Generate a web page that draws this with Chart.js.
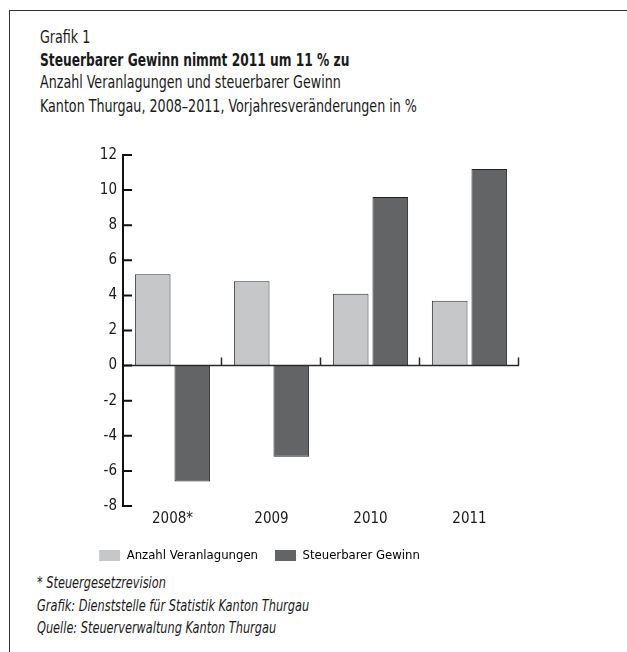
<!DOCTYPE html>
<html>
<head>
<meta charset="utf-8">
<script src="https://cdn.jsdelivr.net/npm/chart.js@4"></script>
<style>
  body { margin: 0; background: #fff; }
  #page { position: relative; width: 627px; height: 652px; overflow: hidden; font-family: "DejaVu Sans Condensed", "Liberation Sans Narrow", sans-serif; color: #1a1a1a; }
  #frame { position: absolute; left: 9px; top: 10px; width: 640px; height: 660px; border-top: 1px solid #333; border-left: 1px solid #333; }
  .t { position: absolute; left: 40px; white-space: nowrap; font-size: 17px; line-height: 20px; transform: scaleX(0.83); transform-origin: 0 0; }
  .f { position: absolute; left: 37px; white-space: nowrap; font-size: 15px; line-height: 18px; font-style: italic; transform: scaleX(0.84); transform-origin: 0 0; }
  #wrap { position: absolute; left: 0; top: 140px; width: 522px; height: 432px; }
</style>
</head>
<body>
<div id="page">
  <div id="frame"></div>
  <div class="t" style="top:27px">Grafik 1</div>
  <div class="t" style="top:50px; font-weight:bold; transform:scaleX(0.8)">Steuerbarer Gewinn nimmt 2011 um 11 % zu</div>
  <div class="t" style="top:72px">Anzahl Veranlagungen und steuerbarer Gewinn</div>
  <div class="t" style="top:96px">Kanton Thurgau, 2008–2011, Vorjahresveränderungen in %</div>
  <div id="wrap"><canvas id="myChart"></canvas></div>
  <div class="f" style="top:574px">* Steuergesetzrevision</div>
  <div class="f" style="top:597px">Grafik: Dienststelle für Statistik Kanton Thurgau</div>
  <div class="f" style="top:619px">Quelle: Steuerverwaltung Kanton Thurgau</div>
</div>
<script>
const years = ['2008*', '2009', '2010', '2011'];
const anzahlVeranlagungen = [5.2, 4.8, 4.1, 3.7];
const steuerbarerGewinn = [-6.6, -5.2, 9.6, 11.2];
const yTicks = [-8, -6, -4, -2, 0, 2, 4, 6, 8, 10, 12];

const fontFam = '"DejaVu Sans Condensed", "Liberation Sans Narrow", sans-serif';

// zero line with upward ticks and inward y ticks
const axisMarks = {
  id: 'axisMarks',
  afterDatasetsDraw(chart) {
    const c = chart.ctx;
    const x = chart.scales.x, y = chart.scales.y;
    const y0 = y.getPixelForValue(0);
    c.save();
    c.strokeStyle = '#2a2a2a';
    c.lineWidth = 1.5;
    c.beginPath();
    c.moveTo(x.left, y0);
    c.lineTo(x.right, y0);
    const step = x.width / years.length;
    for (let i = 1; i <= years.length; i++) {
      const px = Math.round(x.left + i * step) - 0.5;
      c.moveTo(px, y0);
      c.lineTo(px, y0 - 8);
    }
    c.stroke();
    c.strokeStyle = '#111';
    c.lineWidth = 2;
    c.beginPath();
    yTicks.forEach(v => {
      const py = y.getPixelForValue(v);
      c.moveTo(y.right, py);
      c.lineTo(y.right + 9, py);
    });
    c.stroke();
    c.restore();
  }
};

new Chart(document.getElementById('myChart'), {
  type: 'bar',
  data: {
    labels: years,
    datasets: [{
      label: 'Anzahl Veranlagungen',
      data: anzahlVeranlagungen,
      backgroundColor: '#c6c7c9',
      borderColor: '#333',
      borderWidth: 1
    }, {
      label: 'Steuerbarer Gewinn',
      data: steuerbarerGewinn,
      backgroundColor: '#636466',
      borderColor: '#222',
      borderWidth: 1
    }]
  },
  options: {
    responsive: true,
    maintainAspectRatio: false,
    animation: false,
    categoryPercentage: 0.8,
    barPercentage: 0.9,
    layout: { padding: { top: 14, right: 3, bottom: 0 } },
    plugins: {
      tooltip: { enabled: false },
      legend: {
        position: 'bottom',
        labels: {
          boxWidth: 21,
          boxHeight: 11,
          padding: 17,
          color: '#1a1a1a',
          font: { family: fontFam, size: 13 },
          generateLabels(chart) {
            return chart.data.datasets.map((d, i) => ({
              text: d.label, fillStyle: d.backgroundColor, strokeStyle: d.backgroundColor,
              lineWidth: 0, datasetIndex: i
            }));
          }
        }
      }
    },
    scales: {
      x: {
        grid: { display: false, drawTicks: false },
        border: { display: false },
        ticks: { color: '#1a1a1a', font: { family: fontFam, size: 15 }, padding: 4 }
      },
      y: {
        min: -8,
        max: 12,
        afterFit(scale) { scale.width = 123; },
        afterBuildTicks(scale) { scale.ticks = yTicks.map(v => ({ value: v })); },
        grid: { drawOnChartArea: false, drawTicks: false },
        border: { display: true, color: '#111', width: 2 },
        ticks: { color: '#1a1a1a', font: { family: fontFam, size: 15 }, padding: 6 }
      }
    }
  },
  plugins: [axisMarks]
});
</script>
</body>
</html>
